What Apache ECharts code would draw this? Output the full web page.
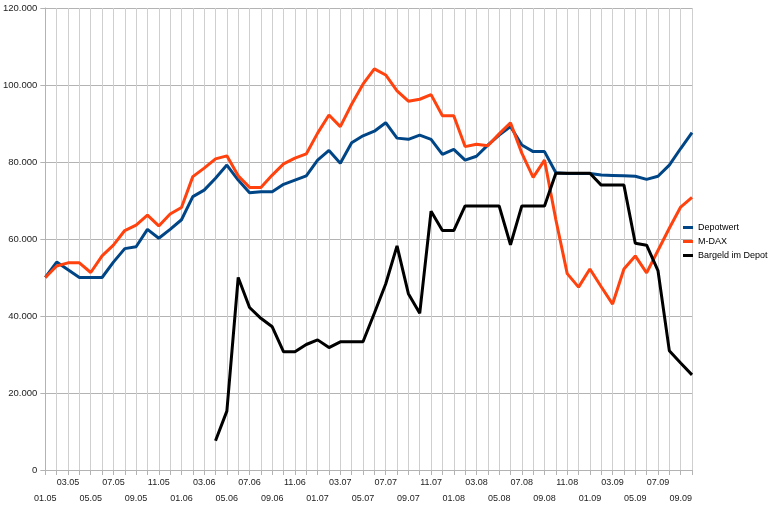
<!DOCTYPE html>
<html>
<head>
<meta charset="utf-8">
<script src="https://cdn.jsdelivr.net/npm/echarts@6/dist/echarts.min.js"></script>
<style>
html,body{margin:0;padding:0;background:#fff;}
#c{width:770px;height:509px;}
</style>
</head>
<body>
<div id="c"></div>
<script>
const categories = [
  '01.05','02.05','03.05','04.05','05.05','06.05','07.05','08.05','09.05','10.05','11.05','12.05',
  '01.06','02.06','03.06','04.06','05.06','06.06','07.06','08.06','09.06','10.06','11.06','12.06',
  '01.07','02.07','03.07','04.07','05.07','06.07','07.07','08.07','09.07','10.07','11.07','12.07',
  '01.08','02.08','03.08','04.08','05.08','06.08','07.08','08.08','09.08','10.08','11.08','12.08',
  '01.09','02.09','03.09','04.09','05.09','06.09','07.09','08.09','09.09','10.09'
];
const depotwert = [
  50000,54000,52000,50000,50000,50000,54000,57500,58000,62500,60200,62500,
  65000,71000,72700,75800,79200,75300,72000,72300,72300,74200,75300,76400,
  80500,83000,79700,85000,86800,88000,90200,86200,85900,87000,85900,82000,
  83300,80500,81500,84400,87000,89200,84400,82700,82700,77200,77000,77000,
  77000,76600,76500,76400,76300,75500,76300,79200,83500,87600
];
const mdax = [
  50000,53000,53800,53800,51300,55600,58400,62200,63600,66200,63400,66500,
  68200,76200,78400,80800,81600,76400,73400,73400,76600,79500,81000,82100,
  87500,92200,89200,95000,100200,104200,102600,98500,95800,96300,97500,92000,
  92000,84000,84600,84200,87300,90200,82300,76000,80500,65000,51000,47500,
  52200,47600,43100,52200,55600,51200,57000,62800,68300,70800
];
const bargeld = [
  null,null,null,null,null,null,null,null,null,null,null,null,
  null,null,null,7600,15300,50000,42200,39400,37200,30700,30700,32600,
  33800,31800,33300,33300,33300,40700,48300,58200,45800,40700,67200,62200,
  62200,68600,68600,68600,68600,58500,68600,68600,68600,77100,77100,77100,
  77100,74000,74000,74000,58900,58400,51800,31000,27800,24700
];
const seriesNames = ['Depotwert','M-DAX','Bargeld im Depot'];
const yTicks = [0,20000,40000,60000,80000,100000,120000];

function fmt(v){
  if (v === 0) return '0';
  const s = String(Math.round(v));
  return s.replace(/\B(?=(\d{3})+(?!\d))/g, '.');
}

const chart = echarts.init(document.getElementById('c'), null, {renderer:'canvas'});
chart.setOption({
  animation:false,
  backgroundColor:'#ffffff',
  textStyle:{fontFamily:'Liberation Sans, Arial, sans-serif'},
  grid:{left:45,right:78,top:8,bottom:39,containLabel:false},
  legend:{
    orient:'vertical',left:683,top:223,padding:0,
    itemWidth:10,itemHeight:3,itemGap:5,
    icon:'rect',
    textStyle:{fontSize:9,color:'#000'},
    data:seriesNames
  },
  xAxis:{
    type:'category',data:categories,boundaryGap:false,
    axisLine:{lineStyle:{color:'#b3b3b3',width:1}},
    axisTick:{show:true,interval:0,length:5,lineStyle:{color:'#b3b3b3'}},
    splitLine:{show:true,interval:0,lineStyle:{color:'#cfcfcf',width:1}},
    axisLabel:{
      interval:0,margin:5,fontSize:9,color:'#222',lineHeight:16,
      formatter:function(v,i){
        if (i%4===2) return v;
        if (i%4===0) return '\n'+v;
        return '';
      }
    }
  },
  yAxis:{
    type:'value',min:0,max:120000,interval:20000,
    axisLine:{show:true,lineStyle:{color:'#b3b3b3',width:1}},
    axisTick:{show:true,length:5,lineStyle:{color:'#b3b3b3'}},
    splitLine:{show:true,lineStyle:{color:'#b3b3b3',width:1}},
    axisLabel:{fontSize:9.5,color:'#222',margin:8,formatter:fmt}
  },
  series:[
    {name:seriesNames[0],type:'line',data:depotwert,showSymbol:false,symbol:'none',
     lineStyle:{color:'#004586',width:3},itemStyle:{color:'#004586'}},
    {name:seriesNames[1],type:'line',data:mdax,showSymbol:false,symbol:'none',
     lineStyle:{color:'#ff420e',width:3},itemStyle:{color:'#ff420e'}},
    {name:seriesNames[2],type:'line',data:bargeld,showSymbol:false,symbol:'none',connectNulls:false,
     lineStyle:{color:'#000000',width:3},itemStyle:{color:'#000000'}}
  ]
});
</script>
</body>
</html>
